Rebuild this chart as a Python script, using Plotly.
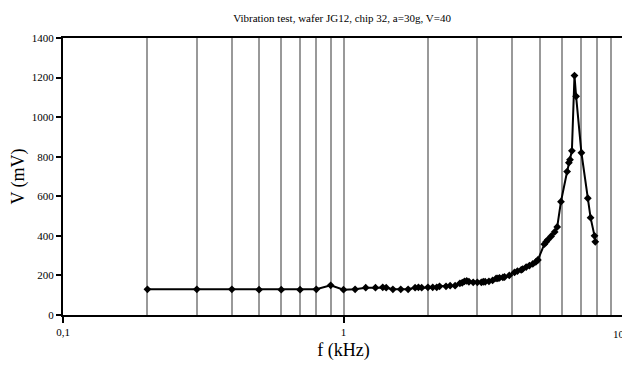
import plotly.graph_objects as go

title = "Vibration test, wafer JG12, chip 32, a=30g, V=40"
x_title = "f (kHz)"
y_title = "V (mV)"

freq_khz = [0.2, 0.3, 0.4, 0.5, 0.6, 0.7, 0.8, 0.9, 1.0,
            1.1, 1.2, 1.3, 1.38, 1.42, 1.5, 1.6, 1.7, 1.8, 1.85, 1.9, 2.0,
            2.08, 2.15, 2.2, 2.32, 2.4, 2.5, 2.6, 2.65, 2.7, 2.75, 2.8, 2.9,
            3.0, 3.1, 3.15, 3.2, 3.3, 3.4, 3.5, 3.55, 3.6, 3.7, 3.75, 3.9,
            4.07, 4.17, 4.3, 4.35, 4.48, 4.6, 4.73, 4.85, 4.93, 5.2, 5.28,
            5.35, 5.5, 5.66, 5.78, 5.96, 6.27, 6.36, 6.42, 6.52, 6.66, 6.75,
            7.05, 7.43, 7.6, 7.85, 7.9]
voltage_mv = [130, 130, 130, 128, 128, 128, 130, 150, 128,
              130, 138, 138, 140, 138, 130, 130, 130, 138, 140, 138, 140,
              140, 140, 145, 145, 148, 148, 160, 163, 170, 172, 168, 165,
              165, 165, 168, 168, 170, 175, 185, 185, 188, 190, 192, 200,
              215, 222, 228, 232, 242, 250, 258, 268, 278, 358, 370,
              380, 398, 420, 445, 573, 725, 770, 785, 830, 1210, 1105,
              820, 590, 492, 400, 370]

x_tickvals = [0.1, 1, 10]
x_ticktext = ["0,1", "1", ""]
x_last_label = "10"
y_tickvals = [0, 200, 400, 600, 800, 1000, 1200, 1400]

font_family = "Liberation Serif"

fig = go.Figure()
fig.add_trace(go.Scatter(
    x=freq_khz, y=voltage_mv, mode="lines+markers",
    line=dict(color="black", width=2),
    marker=dict(symbol="diamond", size=6, color="black"),
    showlegend=False,
))

# the page body adds an 8px offset, so the figure is sized to compensate
fig.update_layout(
    width=622, height=353,
    margin=dict(l=55, r=6, t=30, b=46),
    paper_bgcolor="white", plot_bgcolor="white",
    font=dict(family=font_family, color="black", size=11),
    title=dict(text=title, x=0.537, xanchor="center", y=1 - 10 / 353,
               yref="container", yanchor="middle",
               font=dict(size=11, family=font_family, color="black")),
)
# last x tick label kept inside the visible window
fig.add_annotation(
    x=1, xref="x", y=0, yref="paper", text=x_last_label, showarrow=False,
    xanchor="right", yanchor="top", xshift=3, yshift=-11,
    font=dict(size=11, family=font_family, color="black"),
)
fig.update_xaxes(
    type="log", range=[-1, 1], automargin=False,
    tickvals=x_tickvals, ticktext=x_ticktext, ticklabeloverflow="allow",
    ticks="outside", ticklen=6, tickwidth=1.5, tickcolor="black",
    showline=True, linecolor="black", linewidth=2, mirror=True,
    showgrid=True, gridcolor="#999999", gridwidth=1.5,
    minor=dict(dtick="D1", showgrid=True, gridcolor="#999999", gridwidth=1.5, ticks=""),
    title=dict(text=x_title, font=dict(size=18, family=font_family, color="black"), standoff=9),
    tickfont=dict(size=11, family=font_family, color="black"),
    zeroline=False,
)
fig.update_yaxes(
    range=[0, 1400], tickvals=y_tickvals, automargin=False,
    ticks="outside", ticklen=5, tickwidth=1.5, tickcolor="black",
    showline=True, linecolor="black", linewidth=2, mirror=True,
    showgrid=False, zeroline=False,
    title=dict(text=y_title, font=dict(size=18, family=font_family, color="black"), standoff=4),
    tickfont=dict(size=11, family=font_family, color="black"),
)

fig.write_html("out.html")
